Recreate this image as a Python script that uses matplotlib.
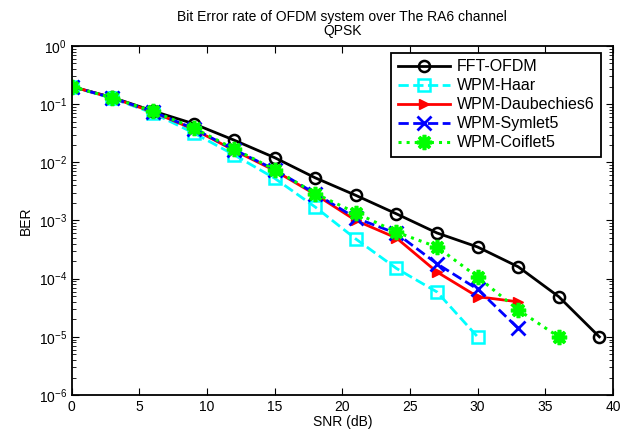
import matplotlib
matplotlib.use('Agg')
import matplotlib.pyplot as plt
import numpy as np

plt.rcParams['font.family'] = ['Liberation Sans', 'DejaVu Sans']

# SNR points (dB)
snr = [0, 3, 6, 9, 12, 15, 18, 21, 24, 27, 30, 33, 36, 39]

# BER values
ber_fft = [0.2, 0.13, 0.076, 0.046, 0.024, 0.012, 0.0054, 0.0027, 1.3e-3, 6.1e-4, 3.5e-4, 1.6e-4, 4.9e-5, 1e-5]
ber_haar = [0.2, 0.125, 0.07, 0.032, 0.0134, 0.0053, 0.0017, 4.8e-4, 1.5e-4, 5.9e-5, 1e-5]
ber_db6 = [0.2, 0.128, 0.073, 0.037, 0.016, 0.0072, 0.0028, 1e-3, 5e-4, 1.3e-4, 4.9e-5, 4e-5]
ber_sym5 = [0.2, 0.128, 0.074, 0.038, 0.0165, 0.0075, 0.0029, 1.1e-3, 6e-4, 1.8e-4, 6.6e-5, 1.4e-5]
ber_coif5 = [0.2, 0.128, 0.075, 0.039, 0.017, 0.0075, 0.0029, 1.35e-3, 6.3e-4, 3.5e-4, 1.07e-4, 2.9e-5, 1e-5]

fig = plt.figure(figsize=(6.27, 4.37), dpi=100)
ax = fig.add_axes([0.1145, 0.096, 0.863, 0.799])

ax.semilogy(snr, ber_fft, 'k-o', lw=2, ms=8, mfc='none', mew=1.8, label='FFT-OFDM')
ax.semilogy(snr[:len(ber_haar)], ber_haar, '--s', color='cyan', lw=2, ms=8, mfc='none', mew=1.8, label='WPM-Haar')
ax.semilogy(snr[:len(ber_db6)], ber_db6, '->', color='red', lw=2, ms=7, label='WPM-Daubechies6')
ax.semilogy(snr[:len(ber_sym5)], ber_sym5, '--x', color='blue', lw=2, ms=10, mew=2, label='WPM-Symlet5')
ax.semilogy(snr[:len(ber_coif5)], ber_coif5, ':', color='lime', lw=2.2, marker=(8, 2, 0),
            ms=11, mew=2.6, label='WPM-Coiflet5')

ax.set_xlim(0, 40)
ax.set_ylim(1e-6, 1)
ax.set_xticks(np.arange(0, 41, 5))
ax.tick_params(which='both', direction='in', top=True, right=True, labelsize=10)
ax.tick_params(which='major', length=5)
ax.tick_params(which='minor', length=3)
for s in ax.spines.values():
    s.set_linewidth(1.3)

ax.set_xlabel('SNR (dB)', fontsize=10, labelpad=1)
ax.set_ylabel('BER', fontsize=10)
ax.set_title('Bit Error rate of OFDM system over The RA6 channel\nQPSK', fontsize=10,
             linespacing=1.0, pad=8)

leg = ax.legend(loc='upper right', fontsize=11.5, handlelength=3.3, handletextpad=0.4,
                fancybox=False, edgecolor='black', framealpha=1, borderpad=0.4,
                labelspacing=0.25, borderaxespad=0, bbox_to_anchor=(0.978, 0.98))
leg.get_frame().set_linewidth(1.3)

fig.savefig('out.png', dpi=100)
